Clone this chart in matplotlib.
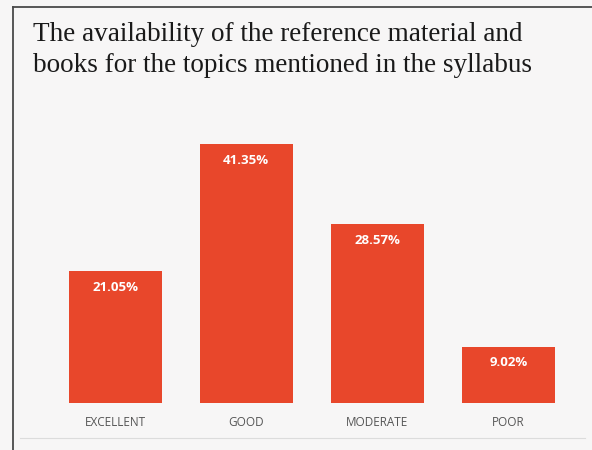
import matplotlib.pyplot as plt
from matplotlib.lines import Line2D

categories = ["EXCELLENT", "GOOD", "MODERATE", "POOR"]
values = [21.05, 41.35, 28.57, 9.02]
value_labels = ["21.05%", "41.35%", "28.57%", "9.02%"]
title = "The availability of the reference material and\nbooks for the topics mentioned in the syllabus"

fig = plt.figure(figsize=(5.92, 4.5), dpi=100)
fig.patch.set_facecolor("#f7f6f6")

# frame around the chart
fig.add_artist(Line2D([13 / 592, 13 / 592], [0, 1 - 7 / 450], color="#4a4a4a", lw=1.3))
fig.add_artist(Line2D([13 / 592, 1], [1 - 7 / 450, 1 - 7 / 450], color="#4a4a4a", lw=1.3))
fig.add_artist(Line2D([20 / 592, 585 / 592], [1 - 438 / 450, 1 - 438 / 450], color="#dcdcdc", lw=0.8))

fig.text(33 / 592, 1 - 22 / 450, title, ha="left", va="top", fontsize=19.5,
         family="Liberation Serif", color="#1a1a1a", linespacing=1.33)

ax = fig.add_axes([49.5 / 592, 47 / 450, 524.5 / 592, 0.626])
ax.set_facecolor("none")
x = range(len(categories))
bars = ax.bar(x, values, width=0.71, color="#e8472b")
ax.set_xlim(-0.5, 3.5)
ax.set_ylim(0, 45)

for b, lab in zip(bars, value_labels):
    ax.text(b.get_x() + b.get_width() / 2, b.get_height() - 1.5, lab,
            ha="center", va="top", color="white", fontsize=9.5, fontweight="bold",
            family="Open Sans")

ax.set_xticks(list(x))
ax.set_xticklabels(categories, fontsize=8.5, color="#555555", family="Open Sans")
ax.tick_params(axis="x", length=0, pad=9)
ax.set_yticks([])
for s in ax.spines.values():
    s.set_visible(False)

fig.savefig("out.png", dpi=100, facecolor=fig.get_facecolor())
